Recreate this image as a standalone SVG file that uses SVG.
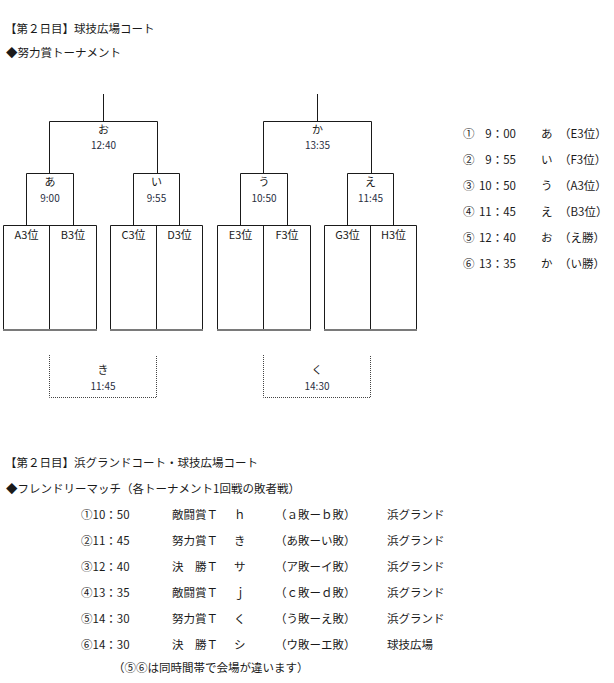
<svg xmlns="http://www.w3.org/2000/svg" width="614" height="683" viewBox="0 0 614 683">
<style>
text{font-family:"Noto Sans CJK JP","Noto Sans",sans-serif;fill:#1a1a1a}
.h{font-size:11.5px}
.k{font-size:11px;text-anchor:middle}
.t{font-size:10px;text-anchor:middle;fill:#2a2f3f}
.l{font-size:11px;text-anchor:middle}
.r{font-size:11.5px}
.e{text-anchor:end}
.ln{stroke:#1a1a1a;stroke-width:1;fill:none}
.bt{stroke:#7a7a7a;stroke-width:2;fill:none}
.dt{stroke:#444;stroke-width:1;fill:none;stroke-dasharray:1 1}
</style>
<rect width="614" height="683" fill="#fff"/>
<g id="titles">
<text class="h" x="5" y="33">【第２日目】球技広場コート</text>
<text class="h" x="6" y="57">◆努力賞トーナメント</text>
</g>
<g id="connectors">
<path class="ln" d="M103.5 94V121.5M49.5 121.5H157.5M49.5 121.5V173.5M157.5 121.5V173.5"/>
<path class="ln" d="M26.5 173.5H73.5M26.5 173.5V225.5M73.5 173.5V225.5"/>
<path class="ln" d="M133.5 173.5H179.5M133.5 173.5V225.5M179.5 173.5V225.5"/>
<path class="ln" d="M317.5 94V121.5M263.5 121.5H371.5M263.5 121.5V173.5M371.5 121.5V173.5"/>
<path class="ln" d="M240.5 173.5H287.5M240.5 173.5V225.5M287.5 173.5V225.5"/>
<path class="ln" d="M347.5 173.5H393.5M347.5 173.5V225.5M393.5 173.5V225.5"/>
</g>
<g id="node-o"><text class="k" x="103.5" y="134">お</text><text class="t" x="103.5" y="148.5">12:40</text></g>
<g id="node-ka"><text class="k" x="317.5" y="134">か</text><text class="t" x="317.5" y="148.5">13:35</text></g>
<g id="node-a"><text class="k" x="50" y="186">あ</text><text class="t" x="50" y="201.5">9:00</text></g>
<g id="node-i"><text class="k" x="156.5" y="186">い</text><text class="t" x="156.5" y="201.5">9:55</text></g>
<g id="node-u"><text class="k" x="264" y="186">う</text><text class="t" x="264" y="201.5">10:50</text></g>
<g id="node-e"><text class="k" x="370.5" y="186">え</text><text class="t" x="370.5" y="201.5">11:45</text></g>
<g id="node-AB">
<path class="ln" d="M3.5 330V225.5H96.5V330M49.5 225.5V330"/><path class="bt" d="M3 330H97"/>
<text class="l" x="26.5" y="239">A3位</text><text class="l" x="73" y="239">B3位</text>
</g>
<g id="node-CD">
<path class="ln" d="M110.5 330V225.5H202.5V330M156.5 225.5V330"/><path class="bt" d="M110 330H203"/>
<text class="l" x="133.5" y="239">C3位</text><text class="l" x="179.5" y="239">D3位</text>
</g>
<g id="node-EF">
<path class="ln" d="M217.5 330V225.5H310.5V330M263.5 225.5V330"/><path class="bt" d="M217 330H311"/>
<text class="l" x="240.5" y="239">E3位</text><text class="l" x="287" y="239">F3位</text>
</g>
<g id="node-GH">
<path class="ln" d="M324.5 330V225.5H416.5V330M370.5 225.5V330"/><path class="bt" d="M324 330H417"/>
<text class="l" x="347.5" y="239">G3位</text><text class="l" x="393.5" y="239">H3位</text>
</g>
<g id="node-ki">
<path class="dt" d="M49.5 355V397.5H156.5V355"/>
<text class="k" x="103" y="374">き</text><text class="t" x="103" y="389.5">11:45</text>
</g>
<g id="node-ku">
<path class="dt" d="M263.5 355V397.5H370.5V355"/>
<text class="k" x="317" y="374">く</text><text class="t" x="317" y="389.5">14:30</text>
</g>
<g id="schedule">
<text class="r" x="463" y="138">①</text><text class="r e" x="516" y="138">9：00</text><text class="r" x="541" y="138">あ</text><text class="r" x="559" y="138">（E3位）</text>
<text class="r" x="463" y="164">②</text><text class="r e" x="516" y="164">9：55</text><text class="r" x="541" y="164">い</text><text class="r" x="559" y="164">（F3位）</text>
<text class="r" x="463" y="190">③</text><text class="r e" x="516" y="190">10：50</text><text class="r" x="541" y="190">う</text><text class="r" x="559" y="190">（A3位）</text>
<text class="r" x="463" y="216">④</text><text class="r e" x="516" y="216">11：45</text><text class="r" x="541" y="216">え</text><text class="r" x="559" y="216">（B3位）</text>
<text class="r" x="463" y="242">⑤</text><text class="r e" x="516" y="242">12：40</text><text class="r" x="541" y="242">お</text><text class="r" x="559" y="242">（え勝）</text>
<text class="r" x="463" y="268">⑥</text><text class="r e" x="516" y="268">13：35</text><text class="r" x="541" y="268">か</text><text class="r" x="559" y="268">（い勝）</text>
</g>
<g id="friendly">
<text class="h" x="5" y="467">【第２日目】浜グランドコート・球技広場コート</text>
<text class="h" x="6" y="493">◆フレンドリーマッチ（各トーナメント1回戦の敗者戦）</text>
<text class="r" x="81" y="519">①10：50</text><text class="r" x="172" y="519">敵闘賞Ｔ</text><text class="r" x="234" y="519">ｈ</text><text class="r" x="275" y="519">（ａ敗ーｂ敗）</text><text class="r" x="387" y="519">浜グランド</text>
<text class="r" x="81" y="545">②11：45</text><text class="r" x="172" y="545">努力賞Ｔ</text><text class="r" x="234" y="545">き</text><text class="r" x="275" y="545">（あ敗ーい敗）</text><text class="r" x="387" y="545">浜グランド</text>
<text class="r" x="81" y="571">③12：40</text><text class="r" x="172" y="571">決　勝Ｔ</text><text class="r" x="234" y="571">サ</text><text class="r" x="275" y="571">（ア敗ーイ敗）</text><text class="r" x="387" y="571">浜グランド</text>
<text class="r" x="81" y="597">④13：35</text><text class="r" x="172" y="597">敵闘賞Ｔ</text><text class="r" x="234" y="597">ｊ</text><text class="r" x="275" y="597">（ｃ敗ーｄ敗）</text><text class="r" x="387" y="597">浜グランド</text>
<text class="r" x="81" y="623">⑤14：30</text><text class="r" x="172" y="623">努力賞Ｔ</text><text class="r" x="234" y="623">く</text><text class="r" x="275" y="623">（う敗ーえ敗）</text><text class="r" x="387" y="623">浜グランド</text>
<text class="r" x="81" y="649">⑥14：30</text><text class="r" x="172" y="649">決　勝Ｔ</text><text class="r" x="234" y="649">シ</text><text class="r" x="275" y="649">（ウ敗ーエ敗）</text><text class="r" x="387" y="649">球技広場</text>
<text class="r" x="113" y="672">（⑤⑥は同時間帯で会場が違います）</text>
</g>
</svg>
